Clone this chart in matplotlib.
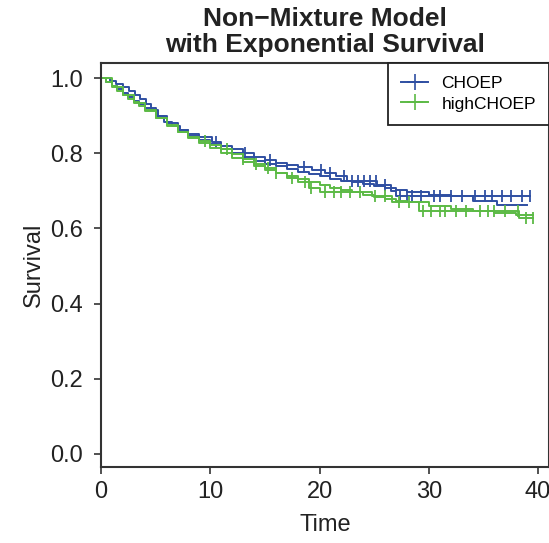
import numpy as np
import matplotlib.pyplot as plt
from matplotlib.lines import Line2D

plt.rcParams['font.family'] = ['Liberation Sans', 'DejaVu Sans']

# Kaplan-Meier estimate, CHOEP
km_t_choep = [0, 0.8, 1.4, 2.0, 2.6, 3.1, 3.6, 4.1, 4.6, 5.2, 5.8, 6.5, 7.2, 8.0, 9.0,
              10.2, 11.0, 12.0, 13.0, 14.0, 15.0, 16.0, 17.0, 18.0, 19.3, 20.5, 21.5,
              22.5, 25.3, 26.5, 27.0, 39.3]
km_s_choep = [1.0, 0.992, 0.984, 0.976, 0.966, 0.955, 0.943, 0.93, 0.915, 0.898, 0.882,
              0.872, 0.862, 0.852, 0.842, 0.83, 0.82, 0.81, 0.80, 0.79, 0.782, 0.775,
              0.768, 0.762, 0.755, 0.748, 0.738, 0.726, 0.716, 0.70, 0.686, 0.686]
cens_choep = [10.5, 13.2, 15.5, 18.6, 20.1, 21.0, 22.2, 23.0, 23.5, 24.1, 24.6, 25.2,
              26.0, 27.4, 28.0, 28.5, 29.3, 30.5, 31.0, 32.0, 33.0, 34.2, 35.1, 35.8,
              36.7, 37.5, 38.5, 39.3]

# fitted non-mixture model, CHOEP
fit_t_choep = [0, 0.5, 1, 1.5, 2, 2.5, 3, 3.5, 4, 5, 6, 7, 8, 9, 10, 11, 12, 13, 14, 15,
               16, 17, 18, 19, 20, 21, 22, 23, 24, 25, 26, 27, 28, 30, 32, 34, 36.2, 39.0]
fit_s_choep = [1.0, 0.99, 0.98, 0.97, 0.96, 0.95, 0.94, 0.93, 0.92, 0.9, 0.88, 0.863,
               0.847, 0.835, 0.825, 0.812, 0.8, 0.789, 0.78, 0.772, 0.765, 0.758,
               0.751, 0.745, 0.738, 0.732, 0.727, 0.722, 0.717, 0.712, 0.707, 0.702,
               0.697, 0.69, 0.687, 0.672, 0.662, 0.662]

# Kaplan-Meier estimate, highCHOEP
km_t_high = [0, 0.5, 1, 1.5, 2, 2.5, 3, 3.5, 4, 5, 6, 7, 8, 9, 10, 11, 12, 13, 14, 15,
             16, 17, 18, 19, 20, 24.8, 26.6, 29.1, 38.3, 39.5]
km_s_high = [1.0, 0.99, 0.978, 0.966, 0.955, 0.945, 0.935, 0.925, 0.915, 0.893, 0.872,
             0.857, 0.842, 0.832, 0.822, 0.81, 0.797, 0.785, 0.772, 0.76, 0.748, 0.735,
             0.722, 0.708, 0.696, 0.686, 0.67, 0.646, 0.627, 0.627]
cens_high = [9.5, 11.5, 13.0, 14.2, 15.3, 16.0, 17.5, 18.7, 19.2, 20.5, 21.3, 22.0,
             22.8, 23.7, 25.1, 26.0, 27.3, 28.2, 29.5, 30.2, 31.0, 31.5, 32.5, 33.4,
             34.7, 35.4, 36.0, 37.0, 38.2, 38.9, 39.5]

# fitted non-mixture model, highCHOEP
fit_t_high = [0, 1, 2, 3, 4, 5, 6, 7, 8, 9, 10, 11, 12, 13, 14, 15, 16, 17, 18, 19, 20,
              21, 22, 23, 24, 25, 26, 27, 28, 30, 32, 34, 36, 38, 39.5]
fit_s_high = [1.0, 0.977, 0.955, 0.934, 0.913, 0.893, 0.874, 0.856, 0.84, 0.826, 0.813,
              0.8, 0.788, 0.777, 0.766, 0.756, 0.747, 0.738, 0.73, 0.722, 0.715, 0.708,
              0.702, 0.696, 0.69, 0.684, 0.679, 0.674, 0.669, 0.66, 0.652, 0.645,
              0.64, 0.636, 0.635]

groups = ['CHOEP', 'highCHOEP']
colors = ['#2F4FA2', '#5CBA45']

fig = plt.figure(figsize=(5.49, 5.43), dpi=100)
ax = fig.add_axes([0.184, 0.140, 0.816, 0.744])

series = [(km_t_choep, km_s_choep, cens_choep, fit_t_choep, fit_s_choep),
          (km_t_high, km_s_high, cens_high, fit_t_high, fit_s_high)]
for (kt, ks, ct, ft, fs), col in zip(series, colors):
    ax.step(ft, fs, where='post', color=col, lw=1.4)
    ax.step(kt, ks, where='post', color=col, lw=1.4)
    idx = np.searchsorted(kt, ct, side='right') - 1
    ax.plot(ct, np.array(ks)[idx], ls='none', marker='|', ms=8, mew=1.3, color=col)

ax.set_xlim(0, 41)
ax.set_ylim(-0.035, 1.04)
ax.set_xticks([0, 10, 20, 30, 40])
ax.set_yticks([0, 0.2, 0.4, 0.6, 0.8, 1.0])
ax.set_yticklabels(['0.0', '0.2', '0.4', '0.6', '0.8', '1.0'])
ax.tick_params(labelsize=17, length=5, width=1.2, color='#333333', labelcolor='#222222')
ax.tick_params(axis='y', pad=8)
ax.tick_params(axis='x', pad=5)
for sp in ax.spines.values():
    sp.set_linewidth(1.5)
    sp.set_color('#333333')

ax.set_xlabel('Time', fontsize=17, color='#222222', labelpad=8)
ax.set_ylabel('Survival', fontsize=17, color='#222222', labelpad=4)
fig.text(0.592, 0.988, 'Non\u2212Mixture Model\nwith Exponential Survival', ha='center',
         va='top', fontsize=19, fontweight='bold', linespacing=1.15, color='#222222')

handles = [Line2D([], [], color=c, lw=1.4, marker='+', ms=12, mew=1.2) for c in colors]
leg = ax.legend(handles, groups, loc='upper right', bbox_to_anchor=(1.0, 1.0),
                borderaxespad=0, fontsize=12.5, fancybox=False, edgecolor='#222222',
                framealpha=1, handlelength=1.6, handletextpad=0.75, labelspacing=0.3,
                borderpad=0.75)
leg.get_frame().set_linewidth(1.3)

fig.savefig('out.png', dpi=100)
